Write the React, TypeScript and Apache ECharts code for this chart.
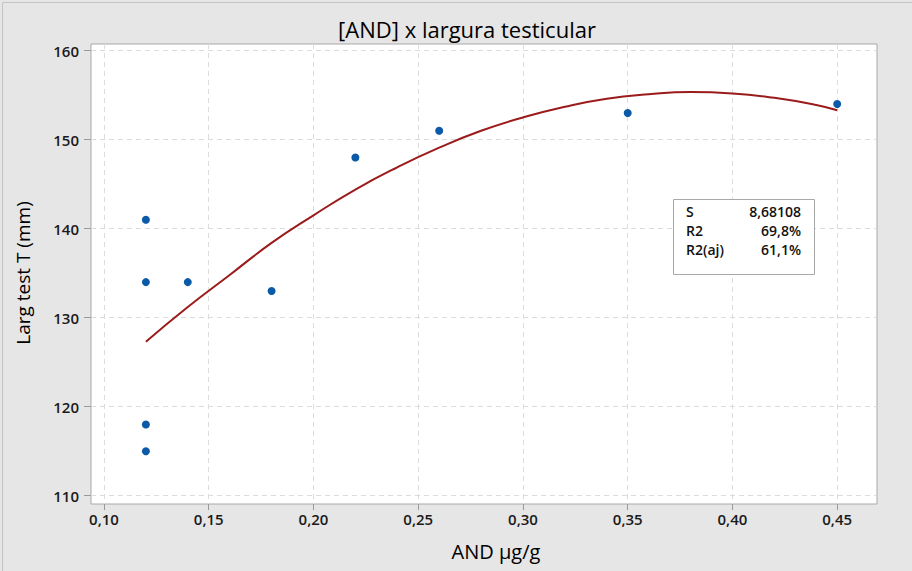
import React, { useEffect, useRef } from "react";
import * as echarts from "echarts";

const xTicks = [0.1, 0.15, 0.2, 0.25, 0.3, 0.35, 0.4, 0.45];
const yTicks = [110, 120, 130, 140, 150, 160];

const andValues = [0.12, 0.12, 0.12, 0.12, 0.14, 0.18, 0.22, 0.26, 0.35, 0.45];
const largValues = [141, 134, 118, 115, 134, 133, 148, 151, 153, 154];

const fitX = [0.12, 0.14, 0.16, 0.18, 0.2, 0.22, 0.24, 0.26, 0.28, 0.3, 0.32, 0.34, 0.36, 0.38, 0.4, 0.42, 0.44, 0.45];
const fitY = [127.3, 131.2, 134.8, 138.4, 141.5, 144.4, 146.9, 149.1, 151.0, 152.5, 153.7, 154.6, 155.1, 155.35, 155.2, 154.7, 153.9, 153.3];

const statLabels = ["S", "R2", "R2(aj)"];
const statValues = ["8,68108", "69,8%", "61,1%"];

export default function App() {
  const ref = useRef<HTMLDivElement>(null);
  useEffect(() => {
    if (!ref.current) return;
    const chart = echarts.init(ref.current, null, { renderer: "svg" });
    const font = "'Open Sans', 'Noto Sans', sans-serif";
    const scatterData = andValues.map((x, i) => [x, largValues[i]]);
    const fitData = fitX.map((x, i) => [x, fitY[i]]);
    const statTexts: any[] = [];
    statLabels.forEach((l, i) => {
      statTexts.push({
        type: "text", x: 686, y: 211 + i * 19,
        style: { text: l, font: `600 14px ${font}`, fill: "#111", textVerticalAlign: "middle" },
      });
      statTexts.push({
        type: "text", x: 801, y: 211 + i * 19,
        style: { text: statValues[i], font: `600 14px ${font}`, fill: "#111", textAlign: "right", textVerticalAlign: "middle" },
      });
    });
    chart.setOption({
      animation: false,
      backgroundColor: "#e6e6e6",
      grid: {
        left: 91, right: 35, top: 44, bottom: 67,
        show: true, backgroundColor: "#ffffff", borderColor: "#a8a8a8", borderWidth: 1,
      },
      xAxis: {
        type: "value", min: 0.0938, max: 0.469,
        axisLine: { show: false },
        axisTick: { show: true, customValues: xTicks, length: 6, lineStyle: { color: "#999" } },
        axisLabel: {
          customValues: xTicks, color: "#1a1a1a", fontSize: 15, fontWeight: 600, fontFamily: font, margin: 7,
          formatter: (v: number) => v.toFixed(2).replace(".", ","),
        },
        splitLine: { show: true, lineStyle: { color: "#dcdcdc", type: [5, 4], width: 1 } },
      },
      yAxis: {
        type: "value", min: 109.07, max: 160.75,
        axisLine: { show: false },
        axisTick: { show: true, customValues: yTicks, length: 7, lineStyle: { color: "#999" } },
        axisLabel: { customValues: yTicks, color: "#1a1a1a", fontSize: 15, fontWeight: 600, fontFamily: font, margin: 12 },
        splitLine: { show: true, lineStyle: { color: "#dcdcdc", type: [5, 4], width: 1 } },
      },
      graphic: [
        {
          type: "rect", left: 0, top: 0,
          shape: { x: 0.5, y: 0.5, width: 911, height: 570 },
          style: { fill: "none", stroke: "#c4c4c4", lineWidth: 1 }, silent: true,
        },
        {
          type: "text", x: 467, y: 29,
          style: { text: "[AND] x largura testicular", font: `22px ${font}`, fill: "#000", textAlign: "center", textVerticalAlign: "middle" },
        },
        {
          type: "text", x: 496, y: 551,
          style: { text: "AND µg/g", font: `20px ${font}`, fill: "#000", textAlign: "center", textVerticalAlign: "middle" },
        },
        {
          type: "text", x: 23, y: 273, rotation: Math.PI / 2,
          style: { text: "Larg test T (mm)", font: `19px ${font}`, fill: "#000", textAlign: "center", textVerticalAlign: "middle" },
        },
        {
          type: "rect",
          shape: { x: 673.5, y: 199.5, width: 141, height: 75 },
          style: { fill: "#ffffff", stroke: "#a8a8a8", lineWidth: 1 }, z: 10,
        },
        ...statTexts.map((t) => ({ ...t, z: 11 })),
      ],
      series: [
        {
          type: "line", data: fitData, smooth: true, showSymbol: false,
          lineStyle: { color: "#9b1b1b", width: 2 }, z: 2,
        },
        {
          type: "scatter", data: scatterData, symbolSize: 8,
          itemStyle: { color: "#0a5aa8", opacity: 1 }, z: 3,
        },
      ],
    });
    return () => chart.dispose();
  }, []);
  return <div ref={ref} style={{ position: "fixed", left: 0, top: 0, width: 912, height: 571 }} />;
}
